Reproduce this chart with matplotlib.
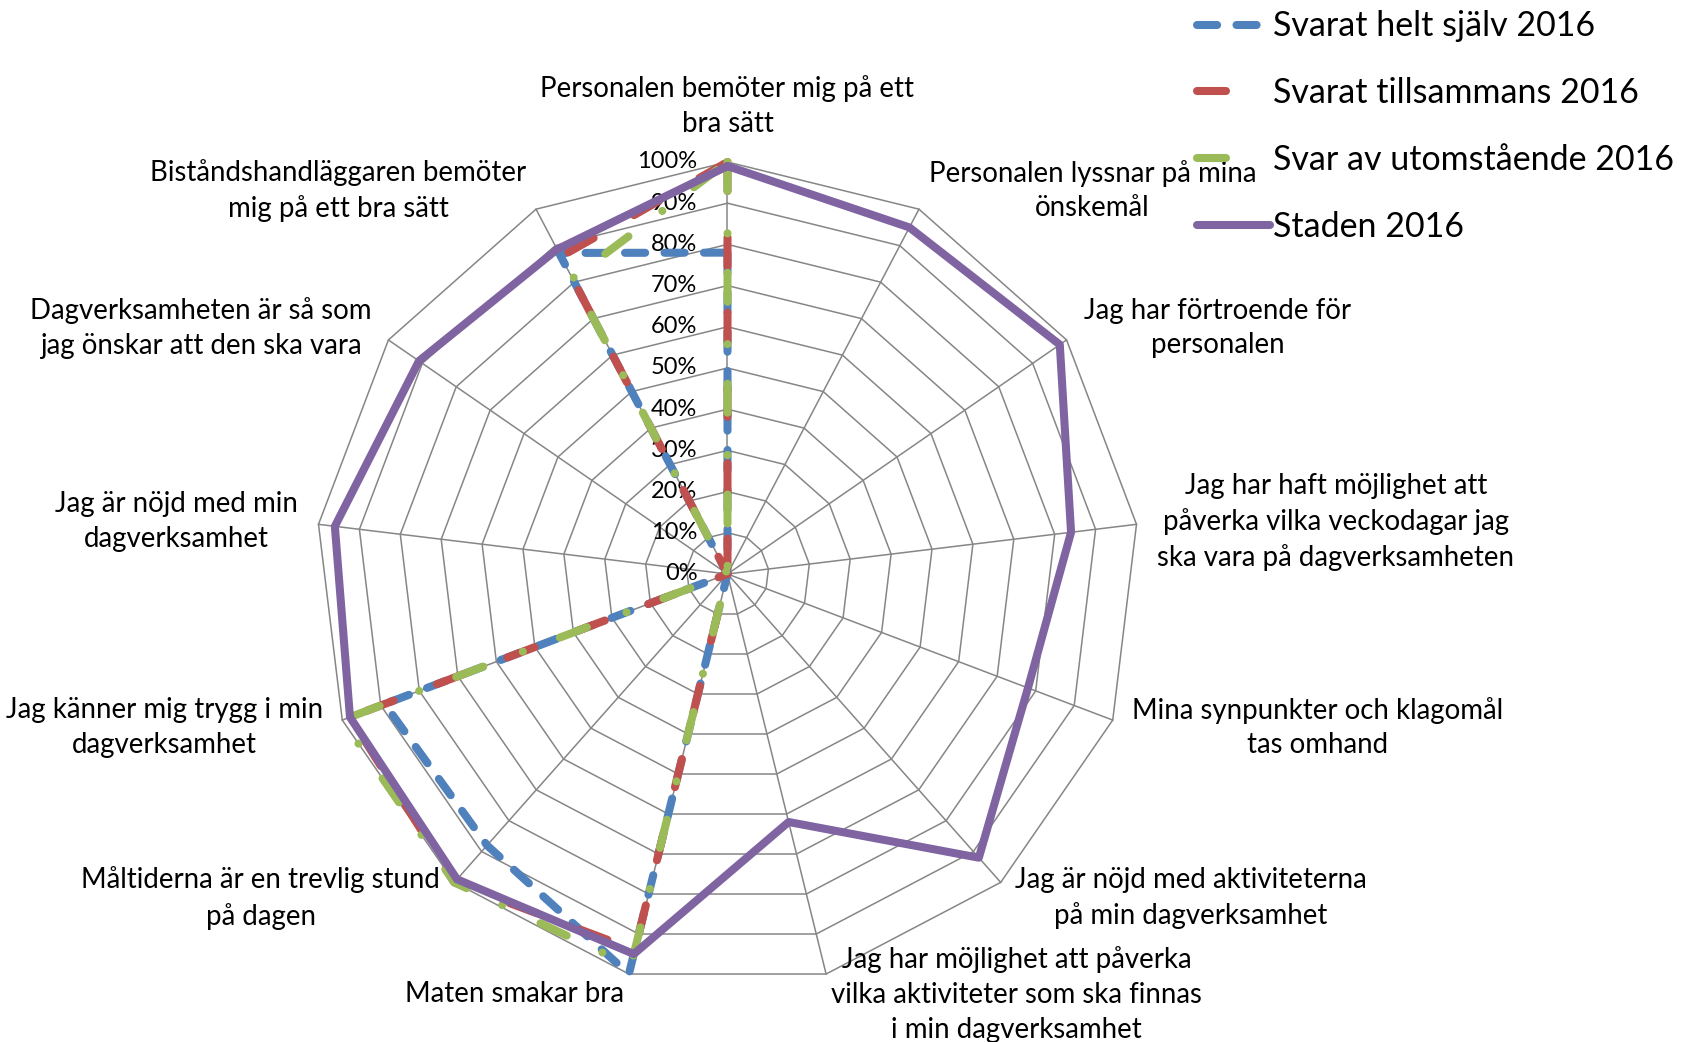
import numpy as np
import matplotlib
matplotlib.use('Agg')
import matplotlib.pyplot as plt
from matplotlib.lines import Line2D
from matplotlib.transforms import ScaledTranslation

plt.rcParams['font.family'] = ['Lato', 'DejaVu Sans']

# categories, clockwise from the top
categories = [
    'Personalen bemöter mig på ett\nbra sätt',
    'Personalen lyssnar på mina\nönskemål',
    'Jag har förtroende för\npersonalen',
    'Jag har haft möjlighet att\npåverka vilka veckodagar jag\nska vara på dagverksamheten',
    'Mina synpunkter och klagomål\ntas omhand',
    'Jag är nöjd med aktiviteterna\npå min dagverksamhet',
    'Jag har möjlighet att påverka\nvilka aktiviteter som ska finnas\ni min dagverksamhet',
    'Maten smakar bra',
    'Måltiderna är en trevlig stund\npå dagen',
    'Jag känner mig trygg i min\ndagverksamhet',
    'Jag är nöjd med min\ndagverksamhet',
    'Dagverksamheten är så som\njag önskar att den ska vara',
    'Biståndshandläggaren bemöter\nmig på ett bra sätt',
]

# values in percent
sjalv = [78, 0, 0, 0, 0, 0, 0, 100, 88, 89, 0, 0, 88]
tillsammans = [100, 0, 0, 0, 0, 0, 0, 94, 100, 98, 0, 0, 87]
utomstaende = [100, 0, 0, 0, 0, 0, 0, 98, 100, 100, 0, 0, 81]
staden = [99, 95, 98, 84, 78, 92, 62, 95, 99, 98, 96, 91, 89]

series_names = ['Svarat helt själv 2016', 'Svarat tillsammans 2016',
                'Svar av utomstående 2016', 'Staden 2016']

tick_levels = [0, 10, 20, 30, 40, 50, 60, 70, 80, 90, 100]

fig = plt.figure(figsize=(16.82, 10.42), dpi=100)
ax = fig.add_axes([0.18757, 0.05375, 0.4899, 0.79079], projection='polar')
ax.set_theta_zero_location('N')
ax.set_theta_direction(-1)
ax.set_ylim(0, 1)
ax.grid(False)
ax.spines['polar'].set_visible(False)
ax.patch.set_visible(False)
ax.set_xticks([])
ax.set_yticks([])

n = len(categories)
angles = np.arange(n) * 2 * np.pi / n
closed = np.append(angles, angles[0])

# polygon grid
grid_col = '#868686'
for lvl in tick_levels[1:]:
    ax.plot(closed, np.full(n + 1, lvl / 100.), color=grid_col, lw=1.1,
            clip_on=False, zorder=1)
for a in angles:
    ax.plot([a, a], [0, 1], color=grid_col, lw=1.1, clip_on=False, zorder=1)

# tick labels left of the top spoke
off = ScaledTranslation(-0.30, 0, fig.dpi_scale_trans)
for lvl in tick_levels:
    ax.text(0, lvl / 100., '%d%%' % lvl, ha='right', va='center',
            fontsize=17, transform=ax.transData + off, zorder=2)

lw = 5.8
colors = ['#4F81BD', '#C0504D', '#9BBB59', '#8064A2']
dash_list = [(2.5, 2.4), (3.6, 5.75), (3.6, 5.25, 0.01, 4.9), None]
# legend samples (the dot of the green pattern falls outside the sample)
legend_dashes = [(2.5, 2.4), (3.6, 10), (3.6, 10), None]

handles = []
for vals, name, col, d, ld in zip([sjalv, tillsammans, utomstaende, staden],
                                  series_names, colors, dash_list,
                                  legend_dashes):
    v = np.array(vals + vals[:1]) / 100.
    kw = dict(color=col, lw=lw, dash_capstyle='round', solid_capstyle='round',
              solid_joinstyle='round', dash_joinstyle='round')
    if d is not None:
        ax.plot(closed, v, clip_on=False, zorder=3, dashes=d, **kw)
        handles.append(Line2D([], [], dashes=ld, **kw))
    else:
        ax.plot(closed, v, clip_on=False, zorder=3, **kw)
        handles.append(Line2D([], [], **kw))

# category labels just outside the outer ring
r_lab = 1 + 21 / 412.
for a, lab in zip(angles, categories):
    s = np.sin(a)
    if abs(s) < 0.05:
        ha, va = 'center', 'bottom'
        r = r_lab + 4 / 412.
    elif s > 0:
        ha, va, r = 'left', 'center', r_lab
    else:
        ha, va, r = 'right', 'center', r_lab
    ax.text(a, r, lab, ha=ha, va=va, multialignment='center',
            fontsize=19.9, linespacing=1.42, clip_on=False)

fig.legend(handles, series_names, loc='upper left',
           bbox_to_anchor=(0.7115, 0.99), frameon=False, fontsize=24.5,
           handlelength=2.15, handletextpad=0.1, labelspacing=1.02,
           borderpad=0, borderaxespad=0)

fig.savefig('out.png', dpi=100)
